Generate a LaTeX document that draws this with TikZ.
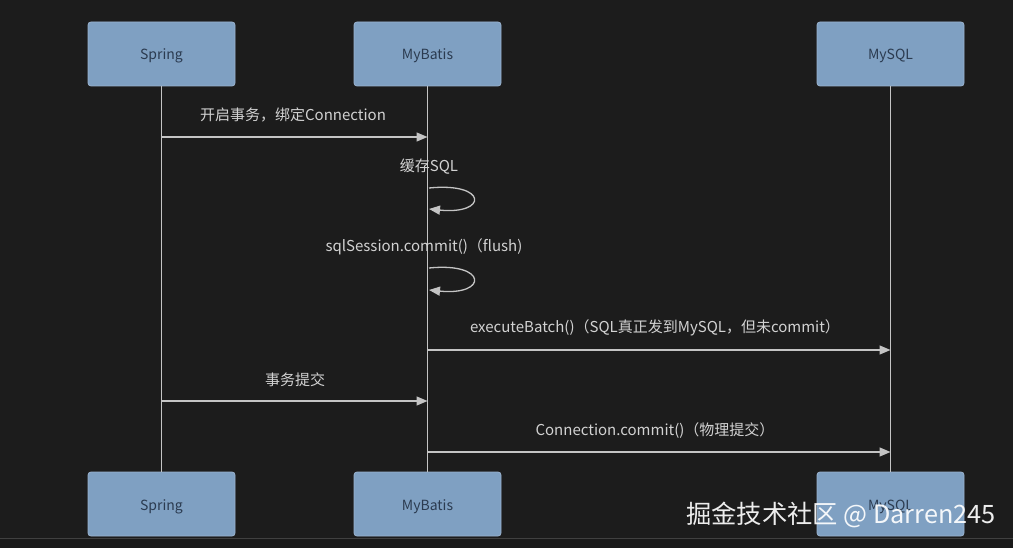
\documentclass[tikz,border=0pt]{standalone}
\usepackage{fontspec}
\setmainfont{Noto Sans CJK SC}
\usetikzlibrary{arrows.meta}
\definecolor{bg}{HTML}{1C1C1C}
\definecolor{boxfill}{HTML}{7FA0C2}
\definecolor{boxline}{HTML}{9BB3CF}
\definecolor{boxtext}{HTML}{2B3B50}
\definecolor{wire}{HTML}{C4C4C4}
\definecolor{lbl}{HTML}{D2D2D2}
\tikzset{
  actor/.style={draw=boxline, line width=0.8pt, fill=boxfill, rounded corners=3pt,
    minimum width=147pt, minimum height=64pt, inner sep=0pt,
    text height=12pt, text depth=0pt,
    text=boxtext, font=\fontsize{14}{16}\selectfont},
  life/.style={draw=wire, line width=1.6pt},
  msg/.style={draw=wire, line width=1.3pt, -{Triangle[length=11pt,width=9pt]}},
  msglabel/.style={text=lbl, font=\fontsize{15}{18}\selectfont, inner sep=0pt}
}
\begin{document}
\begin{tikzpicture}[x=1pt,y=-1pt]
\fill[bg] (0,0) rectangle (1013,548);
\useasboundingbox (0,0) rectangle (1013,548);
\draw[color=black!75!white, line width=1pt] (0,538.5) -- (1013,538.5);
\fill[black!90!white, opacity=0.4] (0,539) rectangle (1013,548);

% actors
\node[actor] (sT) at (161.5,54) {Spring};
\node[actor] (bT) at (427.5,54) {MyBatis};
\node[actor] (mT) at (890.5,54) {MySQL};
\node[actor] (sB) at (161.5,504) {Spring};
\node[actor] (bB) at (427.5,504) {MyBatis};
\node[actor] (mB) at (890.5,504) {MySQL};

% lifelines
\draw[life] (sT.south) -- (sB.north);
\draw[life] (bT.south) -- (bB.north);
\draw[life] (mT.south) -- (mB.north);

% message anchor points
\coordinate (s1) at (161.5,137);
\coordinate (b1) at (427.5,137);
\coordinate (l1a) at (429,188);
\coordinate (l1b) at (429,209);
\coordinate (l2a) at (429,268);
\coordinate (l2b) at (429,290);
\coordinate (b4) at (427.5,350);
\coordinate (m4) at (890.5,350);
\coordinate (s5) at (161.5,401);
\coordinate (b5) at (427.5,401);
\coordinate (b6) at (427.5,452);
\coordinate (m6) at (890.5,452);

% messages
\draw[msg] (s1) -- (b1);
\node[msglabel] (t1) at (293,115) {开启事务，绑定Connection};

\draw[msg] (l1a) .. controls (488,182) and (488,215) .. (l1b);
\node[msglabel] (t2) at (429,167) {缓存SQL};

\draw[msg] (l2a) .. controls (488,262) and (488,296) .. (l2b);
\node[msglabel] (t3) at (424,247) {sqlSession.commit()（flush)};

\draw[msg] (b4) -- (m4);
\node[msglabel] (t4) at (655,328) {executeBatch()（SQL真正发到MySQL，但未commit）};

\draw[msg] (s5) -- (b5);
\node[msglabel] (t5) at (295,380) {事务提交};

\draw[msg] (b6) -- (m6);
\node[msglabel] (t6) at (655,431) {Connection.commit()（物理提交）};

% watermark
\node[text=white, opacity=0.92, font=\fontsize{25.3}{29}\selectfont, inner sep=0pt, anchor=west] (wm) at (686,515) {掘金技术社区 @ Darren245};
\end{tikzpicture}
\end{document}
